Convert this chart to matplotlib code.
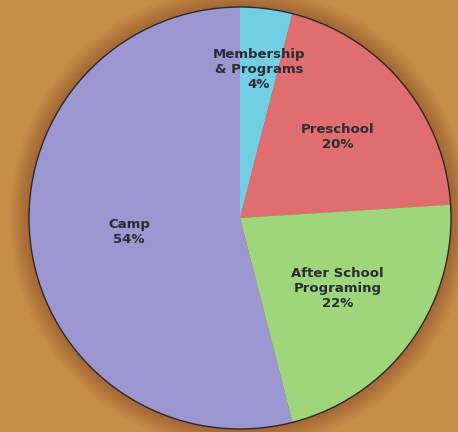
import numpy as np
import matplotlib.pyplot as plt
from matplotlib.patches import Circle

labels = ['Membership\n& Programs', 'Preschool', 'After School\nPrograming', 'Camp']
shares = [4, 20, 22, 54]
colors = ['#72cfe3', '#e06e70', '#9fd67b', '#9c97d0']
label_dist = [0.71, 0.6, 0.57, 0.53]

fig = plt.figure(figsize=(4.58, 4.32), dpi=100)
fig.patch.set_facecolor('#c98d4a')
ax = fig.add_axes([0, 0, 1, 1])

cx, cy, r = 240, 214, 211

# soft dark shadow around the pie
for k in range(20):
    ax.add_patch(Circle((cx, cy), r + 20 - k, color='#6a3a14', alpha=0.02, lw=0, zorder=1))

wedges, _ = ax.pie(shares, colors=colors, startangle=90, counterclock=False,
                   center=(cx, cy), radius=r, wedgeprops=dict(linewidth=0, zorder=2),
                   frame=True)
ax.set_xlim(0, 458)
ax.set_ylim(0, 432)
ax.set_aspect('equal')
ax.axis('off')
ax.add_patch(Circle((cx, cy), r, fill=False, edgecolor='#2a2a2a', lw=1.0, zorder=3))

for w, lab, s, d in zip(wedges, labels, shares, label_dist):
    ang = np.deg2rad((w.theta1 + w.theta2) / 2)
    x = cx + d * r * np.cos(ang)
    y = cy + d * r * np.sin(ang)
    ax.text(x, y, f'{lab}\n{s}%', ha='center', va='center', multialignment='center',
            fontsize=9.5, fontweight='bold', family=['DejaVu Sans'],
            color='#2b2b33', linespacing=1.2, zorder=4)

fig.savefig('out.png', dpi=100, facecolor=fig.get_facecolor())
